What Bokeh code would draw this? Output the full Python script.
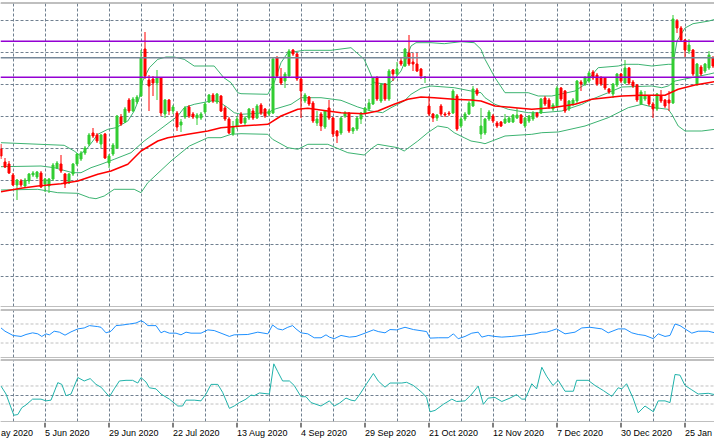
from bokeh.plotting import figure
from bokeh.models import (ColumnDataSource, Range1d, Span, Grid, FixedTicker,
                          SingleIntervalTicker, LabelSet, Spacer)
from bokeh.layouts import column
from bokeh.embed import file_html
from bokeh.resources import INLINE
from bokeh.core.properties import value

# ---------------- data (price units, bar index on x) ----------------
opens = [159,146,144,133,123,127,122,127,133,131,135,124,122,129,140,144,134,125,134,144,
         149,155,164,175,173,164,174,145,154,160,191,186,208,197,206,212,259,228,229,225,
         230,194,208,197,195,183,191,201,194,190,190,196,206,213,206,212,200,189,174,182,
         194,185,190,197,190,203,199,194,195,250,230,227,232,258,254,229,207,211,205,185,
         194,181,200,190,177,175,192,195,177,179,189,195,199,204,230,207,224,209,238,234,
         247,242,255,246,244,239,230,202,194,190,202,194,195,195,212,182,189,194,202,218,
         174,175,189,192,185,186,185,186,186,190,193,182,187,189,195,195,210,208,199,202,
         220,217,199,204,207,226,224,227,236,233,230,230,219,214,223,234,225,240,226,223,
         204,209,212,204,199,212,208,208,205,287,280,268,257,258,224,241,237,240,250]
highs = [164,150,147,135,129,129,130,135,137,137,137,130,130,145,147,153,135,135,145,155,
         157,162,175,180,175,174,175,154,165,193,194,201,210,211,213,258,276,233,232,238,
         231,209,209,203,197,189,202,203,196,195,196,206,214,215,215,213,202,191,187,192,
         196,192,200,200,204,205,200,199,250,252,240,236,259,259,255,230,215,212,207,197,
         196,198,208,191,178,191,197,196,181,191,196,201,209,231,232,225,225,239,239,246,
         250,260,273,255,255,240,232,212,195,194,204,196,197,219,214,191,196,207,222,220,
         200,190,198,194,187,187,194,192,194,200,194,191,193,197,196,210,212,210,205,222,
         221,218,208,210,228,228,232,237,238,235,232,231,220,225,235,235,248,241,228,224,
         218,217,213,206,215,218,209,217,293,289,282,269,269,259,245,243,245,257,252]
lows = [149,140,134,122,108,121,120,124,131,129,120,116,115,127,139,135,120,124,132,142,
        147,153,162,170,165,160,149,140,152,159,182,185,195,196,204,211,229,197,212,208,
        192,190,193,194,177,176,189,190,189,183,188,194,205,205,204,196,187,174,172,179,
        184,183,188,188,189,193,190,192,194,230,223,220,231,252,227,190,205,202,185,182,
        177,179,188,171,165,173,190,175,174,177,184,194,197,203,207,205,207,207,227,232,
        242,241,242,237,236,229,225,192,186,187,192,191,192,194,177,180,187,193,201,212,
        169,173,187,185,180,181,184,185,185,189,184,180,185,187,190,194,202,199,197,200,
        207,195,197,202,205,217,222,225,228,222,222,218,214,210,221,225,224,223,220,206,
        203,207,202,190,197,205,200,197,204,275,266,250,254,232,222,232,235,238,240]
closes = [152,141,135,123,128,123,128,134,135,136,121,129,129,143,145,137,124,134,144,154,
          155,160,173,172,167,173,150,152,163,192,184,199,197,209,211,250,232,222,225,230,
          195,208,197,201,181,186,200,192,191,193,194,204,213,207,214,197,189,175,181,189,
          185,190,199,190,202,195,192,197,249,232,225,234,257,254,229,217,213,204,187,189,
          182,197,190,174,172,190,195,177,180,190,195,200,205,230,209,223,209,237,234,239,
          244,259,244,244,237,232,231,194,190,193,194,193,194,217,179,189,194,205,219,214,
          182,189,196,187,182,182,189,190,193,193,185,190,192,195,192,209,204,201,203,220,
          209,197,207,208,227,224,230,235,230,224,224,220,216,224,234,227,240,225,222,208,
          216,212,204,199,214,207,202,205,289,280,268,258,263,234,244,234,244,253,242]

# Bollinger bands and moving average, read at their vertices (bar index, price)
bb_upper = [(0,165.3),(15.8,162.7),(18.3,157),(19.6,153),(21.7,160.3),(24.2,173.7),(26.7,178.7),
            (28.75,180.3),(31.7,187),(33.3,197),(34.6,210.3),(35.4,227),(37.1,240.3),(39.2,248.7),
            (41.25,251),(43.3,251),(45.8,248.7),(48.3,242),(53.3,242),(55.7,230.3),(57.5,225.3),
            (59.2,215.3),(60,214.3),(66.7,213.7),(68.3,225.3),(70,245.3),(71.7,255.3),(75.8,257.7),
            (82.5,257.7),(87.5,260.3),(90.8,248.7),(92.1,237),(93.3,225.3),(96.7,223.7),(98.3,228.7),
            (100,237),(101.25,248.7),(102.5,262),(103.75,265.3),(107.5,265.3),(110.8,264.3),
            (115,266.3),(118.3,265.3),(120,258.7),(121,248.7),(123.5,230.3),(126,215.3),
            (131.8,215.3),(134.3,212),(137.7,212),(143.5,217),(146,223.7),(146.8,228.7),
            (149.3,240.3),(154.3,242),(156,243.7),(159.3,243.7),(162.7,242),(166.8,243.7),
            (168,243.7),(169,267),(171,280),(173,284.3),(177,287),(178.5,288.7)]
bb_middle = [(0,141.3),(10,142),(13.3,140.3),(17.9,135.3),(20,135.3),(22.5,140.3),(25,143.7),
             (28.3,148.7),(32.5,155.3),(35.8,167),(39.2,177),(44.2,192),(45.8,200.3),(48.3,203.7),
             (52.5,207),(54.2,207),(56.7,200.3),(58.3,195.3),(60,193.7),(66.7,195.3),(68.3,198.7),
             (72.5,203.7),(75,210.3),(80,210.3),(85,207.7),(89.2,201),(92.5,197),(95.4,195.3),
             (97.5,200.3),(100.8,207),(102.5,213.7),(105,219.7),(107.5,222),(113.3,220.3),
             (117.5,217),(120,215.3),(121,210.3),(123.5,203.7),(126.8,198.7),(131.8,195.3),
             (135.2,195.3),(140.2,197),(145.2,203.7),(147.7,208.7),(151.8,215.3),(155.2,221),
             (162.7,222),(165.2,220.3),(166.8,222),(168.5,227),(173.5,231),(176.8,233.7),
             (178.5,235.3)]
bb_lower = [(0,118),(9.2,118.7),(14.2,115.3),(19.2,114.7),(22.1,110.3),(23.75,109.3),(25.8,112),
            (28.3,118.7),(33.3,118.7),(35,115.3),(36.7,125.3),(42.5,147),(47.1,162),(51.7,170.3),
            (55,170.3),(57.5,173.7),(60,174.3),(66.7,173.7),(67.9,168.7),(71.7,160.3),(74.2,158.7),
            (76.7,163.7),(81.7,163.7),(86.7,155.3),(90.8,153),(92.9,160.3),(94.2,163.7),
            (99.2,160.3),(100.8,157),(104.2,167),(106.7,175.3),(109.2,182),(111.7,180.3),
            (113.3,175.3),(115.8,170.3),(117.5,167),(120,165.3),(121,164.3),(126,172),
            (132.7,173.7),(135.2,175.3),(139.3,176),(146,182),(151.8,190.3),(156.8,200.3),
            (160.2,203.7),(163.5,200.3),(166.8,198.7),(167.7,193.7),(169.3,182),(171,177),
            (175.2,177),(178.5,178.7)]
moving_avg = [(0,116.3),(5,119.7),(9.2,122),(15,124.3),(19.2,127),(24.2,133.7),(27.5,137),
              (31.7,143.7),(35,157),(39.2,167),(41.7,170.3),(46.7,173.7),(51.7,177),(55,180.3),
              (60,182),(66.7,183.7),(70,192),(74.2,198.7),(76.7,199.7),(81.7,197),(85,195.3),
              (90.8,194.3),(94.2,197),(98.3,203.7),(101.7,208.7),(105,211),(108.3,210.3),
              (113.3,208.7),(117.5,208),(120,207),(123.5,202),(128.5,200.3),(132.7,198.7),
              (137.7,200.3),(143.5,203.7),(147.7,208.7),(155.2,212),(160.2,212.7),(166,212.7),
              (169.3,218.7),(173.5,223),(176.8,225.3),(178.5,226.3)]

# horizontal price levels: violet, grey, violet
level_prices = [266.7, 250.3, 230.7]
level_colors = ["#9400D3", "#778899", "#9400D3"]

# oscillator 1 (0..100 scale, levels 70/30)
rsi = [(0,61.7),(1,54.8),(3,45.9),(5,43.8),(6.25,47.9),(7.9,51.4),(9.2,49.3),(10.2,43.8),
       (11.25,49.3),(12.1,47.2),(13.3,54.8),(14.6,52.8),(16,46.5),(17.5,53.4),(19.2,59.7),
       (20.8,61.7),(22.1,66.6),(24.2,64.5),(25,63.1),(26.25,51.4),(27.5,54.8),(28.75,66.6),
       (30.4,67.9),(32.1,70),(33.75,72.1),(35,76.9),(35.8,73.5),(36.7,66.6),(38.75,66.6),
       (40,51.4),(40.8,54.8),(42.1,50.7),(43.75,50.7),(45,47.2),(46.25,52.8),(47.5,50.7),
       (50,50.7),(51.7,57.6),(53.3,56.2),(55,50.7),(57.1,43.8),(58.3,47.2),(61.7,47.9),
       (64.2,52.8),(66.7,49.3),(67.9,67.9),(69.2,59.7),(70.4,57.6),(71.7,63.1),(72.9,66.6),
       (73.75,59.7),(75,51.4),(76.7,49.3),(78.3,41),(80,41),(81.25,47.2),(82.1,42.4),(83.3,39),
       (85,45.9),(87.1,42.4),(88.75,43.8),(91,50.7),(93.1,57.6),(94.3,54.1),(96,51.4),
       (97.25,58.3),(98.9,57.6),(101,63.1),(103.1,58.3),(106.4,54.1),(107.25,40.3),(109.3,41),
       (111.8,41),(113.1,49.3),(114.3,39),(116,43.8),(117.7,50.7),(119.3,52.8),(120.2,42.4),
       (121.8,45.9),(123.5,43.8),(125.2,42.4),(127.7,43.8),(130.2,45.9),(133.5,49.3),
       (135.2,52.8),(136.4,52.8),(137.7,56.2),(138.9,59.7),(141,49.3),(143.5,52.8),
       (145.2,61.7),(147.25,63.1),(150.2,59.7),(151.8,51.4),(154.3,59.7),(156,59.7),
       (157.7,51.4),(159.3,47.9),(161,45.9),(163.1,39),(164.3,49.3),(166,43.8),(167.25,45.9),
       (168.5,70),(169.75,66.6),(171,59.7),(172.7,50.7),(174.3,54.8),(176.8,54.8),(178.5,51.4)]
rsi_levels = [70, 30]

# oscillator 2 (zero line, levels +100/-100)
cci = [(0,99),(1.25,11),(3.2,-224),(4.2,-217),(5.2,-141),(6.25,-110),(7.9,-46),(10,-46),
       (11.25,-65),(12.5,-57),(14.2,137),(15.2,118),(16.25,-8),(17.5,11),(19.2,194),(20.8,156),
       (22.3,182),(23.75,118),(25,87),(27.1,-19),(28.3,68),(29.6,156),(31.25,163),(32.9,163),
       (34.2,133),(35,194),(36.25,144),(37.1,80),(38.75,68),(40,11),(42.1,-46),(44.2,-122),
       (45.4,-122),(46.25,-57),(48.3,-57),(50,-65),(51.25,11),(52.5,118),(54.2,118),(55.4,30),
       (57.1,-148),(58.3,-122),(59.6,-84),(61.25,-46),(62.5,0),(63.3,-8),(64.6,23),(67.1,11),
       (68.2,346),(69.2,258),(70.4,156),(72.1,156),(73.3,106),(75,-19),(76.25,-19),(77.5,-84),
       (78.75,-103),(80,-122),(82.1,-65),(83.3,-122),(84.6,-91),(86.25,-34),(87.5,-57),
       (88.5,-65),(89.75,11),(91.4,125),(93.1,239),(94.3,156),(96,87),(97.25,133),(100.2,133),
       (101.4,141),(103.1,106),(105.2,30),(106.4,-27),(107.25,-186),(108.5,-171),(110.6,-103),
       (112.7,-46),(113.9,-72),(116,-65),(117.7,11),(119.3,99),(120.6,-103),(121.8,-34),
       (123.5,-27),(125.2,-72),(127.25,-34),(128.9,4),(130.2,-46),(131,-46),(131.8,30),
       (132.7,125),(133.9,68),(135.2,308),(136.4,209),(138,106),(139.3,163),(141,42),(143.1,42),
       (143.9,163),(146.8,163),(148.5,106),(150.6,49),(152.7,-15),(154.3,80),(155.2,68),
       (156.4,125),(158,-34),(159.3,-198),(161,-122),(163.1,-186),(164.3,-65),(166,-65),
       (167.25,-84),(168.5,228),(169.75,220),(171,106),(172.7,57),(174.3,11),(176.8,19),(178.5,4)]
cci_levels = [100, -100]

# date axis: bar index of each tick and the part of its label that is visible
date_index = [-5, 11, 27, 43, 59, 75, 91, 107, 123, 139, 155, 171]
date_labels = ["ay 2020", "5 Jun 2020", "29 Jun 2020", "22 Jul 2020", "13 Aug 2020",
               "4 Sep 2020", "29 Sep 2020", "21 Oct 2020", "12 Nov 2020", "7 Dec 2020",
               "30 Dec 2020", "25 Jan"]

# ---------------- styling / layout ----------------
W = 714
GRID = "#708090"
DASH = "3 2"
UP, DOWN = "#32CD32", "#FF0000"
BAND = "#3CB371"
GRID_STEP = 8          # bars between vertical grid lines
n_bars = len(opens)
grid_bars = list(range(3, n_bars + 1, GRID_STEP))

xr = Range1d(-0.125, n_bars - 0.625)


def panel(height, yr):
    p = figure(width=W, height=height, x_range=xr, y_range=yr,
               x_axis_location=None, y_axis_location=None,
               toolbar_location=None, output_backend="svg",
               min_border_left=0, min_border_right=0,
               min_border_top=1, min_border_bottom=1,
               border_fill_color="black", background_fill_color="white",
               outline_line_color=None)
    p.xgrid.visible = False
    p.ygrid.visible = False
    p.add_layout(Grid(dimension=0, ticker=FixedTicker(ticks=grid_bars),
                      grid_line_color=GRID, grid_line_dash=DASH, grid_line_width=1))
    return p


# ---- main price panel ----
main = panel(305, Range1d(1.5, 304.5))
main.add_layout(Grid(dimension=1, ticker=SingleIntervalTicker(interval=32),
                     grid_line_color=GRID, grid_line_dash=DASH, grid_line_width=1))

for band in (bb_upper, bb_middle, bb_lower):
    main.line([b[0] for b in band], [b[1] for b in band], line_color=BAND, line_width=1)

idx = list(range(n_bars))
colors = [UP if c >= o else DOWN for o, c in zip(opens, closes)]
src = ColumnDataSource(dict(
    x=idx, high=highs, low=lows,
    top=[max(o, c) for o, c in zip(opens, closes)],
    bottom=[min(o, c) for o, c in zip(opens, closes)],
    color=colors))
main.segment(x0="x", y0="low", x1="x", y1="high", line_color="color", line_width=1, source=src)
main.vbar(x="x", top="top", bottom="bottom", width=0.5, fill_color="color",
          line_color="color", line_width=1, source=src)

main.line([m[0] for m in moving_avg], [m[1] for m in moving_avg], line_color="#FF0000", line_width=1.5)

for lvl, col in zip(level_prices, level_colors):
    main.add_layout(Span(location=lvl, dimension="width", line_color=col, line_width=1.5))

# ---- oscillator 1 ----
p1 = panel(49, Range1d(-0.5, 98.4))
for lvl in rsi_levels:
    p1.add_layout(Span(location=lvl, dimension="width", line_color="#C0C0C0",
                       line_dash=DASH, line_width=1, level="underlay"))
p1.line([r[0] for r in rsi], [r[1] for r in rsi], line_color="#1E90FF", line_width=1)

# ---- oscillator 2 ----
p2 = panel(63, Range1d(-294, 383))
p2.add_layout(Grid(dimension=1, ticker=FixedTicker(ticks=[0]),
                   grid_line_color=GRID, grid_line_dash=DASH, grid_line_width=1))
for lvl in cci_levels:
    p2.add_layout(Span(location=lvl, dimension="width", line_color="#C0C0C0",
                       line_dash=DASH, line_width=1, level="underlay"))
p2.line([c[0] for c in cci], [c[1] for c in cci], line_color="#20B2AA", line_width=1)

# ---- date strip ----
dates = figure(width=W, height=21, x_range=xr, y_range=Range1d(0, 21),
               x_axis_location=None, y_axis_location=None,
               toolbar_location=None, output_backend="svg",
               min_border=0, border_fill_color="white",
               background_fill_color="white", outline_line_color=None)
dates.xgrid.visible = False
dates.ygrid.visible = False
label_x = [max(i, 0) for i in date_index]   # first label clamped to the left edge
dsrc = ColumnDataSource(dict(x=date_index, lx=label_x, text=date_labels,
                             y=[10.5] * len(date_index),
                             t0=[21] * len(date_index), t1=[16] * len(date_index)))
dates.segment(x0="x", y0="t0", x1="x", y1="t1", line_color="black", line_width=1, source=dsrc)
dates.add_layout(LabelSet(x="lx", y="y", text="text", source=dsrc,
                          text_font=value("Liberation Sans"), text_font_size=value("9px"),
                          text_align="left", text_baseline="middle", text_color="black"))

layout = column(Spacer(width=W, height=2), main, Spacer(width=W, height=2), p1,
                Spacer(width=W, height=1), p2, dates, spacing=0)

open("out.html", "w").write(file_html(layout, INLINE))
